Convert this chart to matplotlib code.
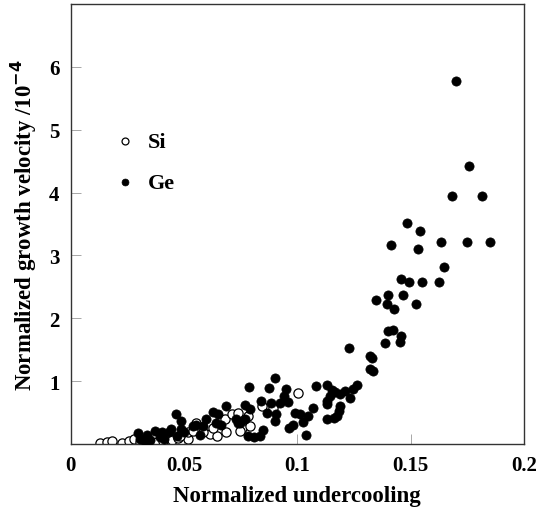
import numpy as np
import matplotlib.pyplot as plt

# normalized undercooling / normalized growth velocity (x1e-4)
si_x = [0.0129, 0.0159, 0.0181, 0.0225, 0.0257, 0.0279, 0.0306, 0.0342, 0.0379,
        0.0409, 0.0445, 0.0475, 0.0519, 0.0519, 0.0555, 0.0614, 0.0644, 0.0685,
        0.0680, 0.0710, 0.0739, 0.0754, 0.0747, 0.0791, 0.0842, 0.0893, 0.0783,
        0.0629, 0.0585, 0.0541, 0.0482, 0.1002]
si_y = [0.01, 0.03, 0.04, 0.02, 0.05, 0.08, 0.03, 0.04, 0.03,
        0.05, 0.07, 0.09, 0.08, 0.19, 0.34, 0.16, 0.13, 0.19,
        0.39, 0.48, 0.50, 0.25, 0.21, 0.28, 0.60, 0.57, 0.45,
        0.26, 0.19, 0.21, 0.13, 0.81]

ge_x = [0.1699, 0.1758, 0.1684, 0.1813, 0.1484, 0.1540, 0.1534, 0.1411, 0.1634,
        0.1747, 0.1849, 0.1649, 0.1459, 0.1493, 0.1552, 0.1624, 0.1402, 0.1468,
        0.1345, 0.1395, 0.1428, 0.1525, 0.1402, 0.1420, 0.1386, 0.1459, 0.1452,
        0.1230, 0.1320, 0.1329, 0.1320, 0.1334, 0.1262, 0.1246, 0.1232, 0.1209,
        0.1190, 0.1168, 0.1154, 0.1129, 0.1082, 0.1146, 0.1129, 0.1129, 0.1187,
        0.1184, 0.1173, 0.1161, 0.1129, 0.1071, 0.1048, 0.1023, 0.0989, 0.1011,
        0.0979, 0.0964, 0.1039, 0.0901, 0.0949, 0.0873, 0.0785, 0.0841, 0.0882,
        0.0923, 0.0941, 0.0958, 0.0864, 0.0905, 0.0901, 0.0847, 0.0835, 0.0810,
        0.0784, 0.0769, 0.0791, 0.0769, 0.0747, 0.0728, 0.0683, 0.0626, 0.0651,
        0.0639, 0.0595, 0.0585, 0.0555, 0.0538, 0.0570, 0.0463, 0.0486, 0.0486,
        0.0500, 0.0442, 0.0432, 0.0403, 0.0373, 0.0335, 0.0295, 0.0306, 0.0328,
        0.0350, 0.0394, 0.0413, 0.0467, 0.0663, 0.0736]
ge_y = [5.78, 4.43, 3.95, 3.95, 3.51, 3.39, 3.10, 3.16, 3.21,
        3.21, 3.21, 2.82, 2.63, 2.58, 2.58, 2.58, 2.37, 2.37,
        2.29, 2.22, 2.15, 2.22, 1.80, 1.81, 1.61, 1.72, 1.62,
        1.52, 1.40, 1.37, 1.19, 1.16, 0.94, 0.87, 0.73, 0.84,
        0.79, 0.82, 0.86, 0.94, 0.92, 0.77, 0.69, 0.63, 0.61,
        0.52, 0.45, 0.42, 0.40, 0.57, 0.45, 0.35, 0.50, 0.48,
        0.31, 0.25, 0.14, 1.05, 0.88, 0.89, 0.91, 0.69, 0.66,
        0.65, 0.76, 0.67, 0.49, 0.47, 0.37, 0.23, 0.12, 0.11,
        0.13, 0.62, 0.56, 0.40, 0.33, 0.40, 0.60, 0.51, 0.47,
        0.33, 0.39, 0.28, 0.30, 0.28, 0.14, 0.48, 0.37, 0.24,
        0.19, 0.24, 0.19, 0.19, 0.20, 0.14, 0.17, 0.08, 0.05,
        0.07, 0.11, 0.08, 0.12, 0.30, 0.34]

x_ticks = [0, 0.05, 0.1, 0.15, 0.2]
x_labels = ['0', '0.05', '0.1', '0.15', '0.2']
y_ticks = [1, 2, 3, 4, 5, 6]

plt.rcParams['font.family'] = ['Liberation Serif', 'DejaVu Serif']
plt.rcParams['font.weight'] = 'bold'

fig = plt.figure(figsize=(5.37, 5.10), dpi=100)
ax = fig.add_axes([70.7 / 537, 65 / 510, 453.3 / 537, 440 / 510])

ax.scatter(si_x, si_y, s=44, facecolors='white', edgecolors='black',
           linewidths=0.9, label='Si', zorder=2)
ax.scatter(ge_x, ge_y, s=44, facecolors='black', edgecolors='black',
           linewidths=0.5, label='Ge', zorder=3)

ax.set_xlim(0, 0.2)
ax.set_ylim(0, 7)
ax.set_xticks(x_ticks)
ax.set_xticklabels(x_labels)
ax.set_yticks(y_ticks)
ax.tick_params(direction='in', length=7, width=0.6, color='#999999',
               labelsize=15)
ax.tick_params(axis='y', pad=8)
ax.tick_params(axis='x', pad=8)
for sp in ax.spines.values():
    sp.set_linewidth(1.0)
    sp.set_color('#333333')

ax.set_xlabel('Normalized undercooling', fontsize=16.5, fontweight='bold', labelpad=7)
ax.set_ylabel('Normalized growth velocity /10$^{\\mathbf{-4}}$', fontsize=16.5,
              fontweight='bold', labelpad=7)

leg = ax.legend(loc='upper left', bbox_to_anchor=(0.052, 0.73), frameon=False,
                fontsize=16, handletextpad=0.0, labelspacing=0.9,
                markerscale=0.75, borderaxespad=0)

fig.savefig('out.png', dpi=100)
